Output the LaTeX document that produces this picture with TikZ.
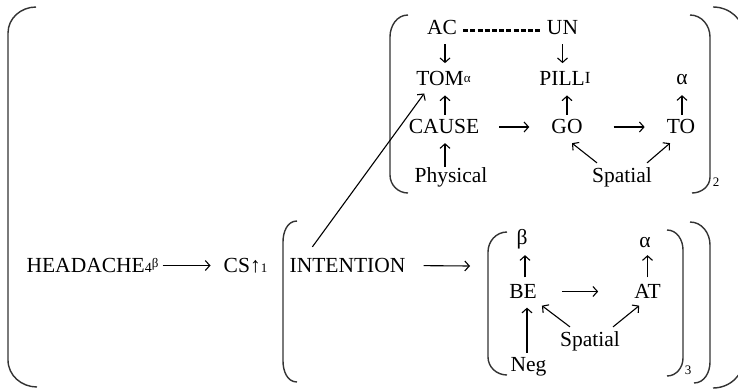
\documentclass[tikz,border=0pt]{standalone}
\usepackage{fontspec}
\setmainfont{Liberation Serif}
\usetikzlibrary{arrows.meta}
\newcommand\mysup[3]{\raisebox{#1}{\fontsize{#2}{#2}\selectfont #3}}
\newcommand\mysub[2]{{\fontsize{#1}{#1}\selectfont #2}}
\begin{document}
\begin{tikzpicture}[x=1pt,y=-1pt,
  lbl/.style={inner sep=0pt, text height=13.9pt, text depth=0pt, font=\fontsize{21.5}{25}\selectfont},
  small/.style={inner sep=0pt, font=\fontsize{13}{13}\selectfont},
  arr/.style={line width=1.1pt, -{Straight Barb[length=4.5pt,width=10pt,line width=1.1pt]}},
  dsh/.style={line width=2.2pt, dash pattern=on 5pt off 2.2pt},
  brk/.style={line width=1.4pt, draw=black!80}]
\useasboundingbox (0,0) rectangle (738,389);

% nodes
\node[lbl] (AC) at (442,28) {AC};
\node[lbl] (UN) at (562.5,28) {UN};
\node[lbl] (TOM) at (443.5,78.3) {TOM\mysup{3pt}{13}{α}};
\node[lbl] (PILL) at (565,78.3) {PILL\mysup{2pt}{17}{I}};
\node[lbl] (al1) at (682,78) {α};
\node[lbl] (CAUSE) at (444,127) {CAUSE};
\node[lbl] (GO) at (567,127) {GO};
\node[lbl] (TO) at (681,127) {TO};
\node[lbl] (PHYS) at (451,176) {Physical};
\node[lbl] (SP1) at (622,176) {Spatial};
\node[lbl] (HEAD) at (92.5,265.5) {HEADACHE\mysub{14}{4}\mysup{5pt}{13}{β}};
\node[lbl] (CS) at (245.5,265.5) {CS↑\mysub{13}{1}};
\node[lbl] (INT) at (347.5,265.5) {INTENTION};
\node[lbl] (be) at (522,238) {β};
\node[lbl] (al2) at (645,241) {α};
\node[lbl] (BE) at (523,291.5) {BE};
\node[lbl] (AT) at (647.5,291.5) {AT};
\node[lbl] (SP2) at (590,340) {Spatial};
\node[lbl] (NEG) at (528.5,365) {Neg};
\node[small] (s2) at (716,182) {2};
\node[small] (s3) at (688,370) {3};
\coordinate (b3) at (470,266);

% brackets
\draw[brk] (36,7) to[out=180,in=90] (8,33) -- (8,360) to[out=-90,in=180] (37,387);
\draw[brk] (713,7) to[out=0,in=90] (744,36) -- (744,358) to[out=-90,in=0] (713,388);
\draw[brk] (297,221) to[out=180,in=90] (283,242) -- (283,361) to[out=-90,in=180] (297,382);
\draw[brk] (690,222) to[out=0,in=90] (710,245) -- (710,362) to[out=-90,in=0] (694,383);
\draw[brk] (507,232) to[out=180,in=90] (488,252) -- (488,357) to[out=-90,in=180] (507,375);
\draw[brk] (667,230) to[out=0,in=90] (683,250) -- (683,358) to[out=-90,in=0] (667,376);
\draw[brk] (408,15) to[out=180,in=90] (390,37) -- (390,175) to[out=-90,in=180] (408,193);
\draw[brk] (690,15) to[out=0,in=90] (710,37) -- (710,177) to[out=-90,in=0] (692,193);

% dashed link
\draw[dsh, shorten <=6pt, shorten >=6pt] ([yshift=-2.5pt]AC.east) -- ([yshift=-2.5pt]UN.west);

% top block arrows
\draw[arr, shorten <=9pt, shorten >=8pt] ([xshift=3pt]AC.south) -- ([xshift=3pt]AC.south |- TOM.north);
\draw[arr, shorten <=9pt, shorten >=8pt] (UN.south) -- (UN.south |- PILL.north);
\draw[arr, shorten <=5pt, shorten >=10pt] ([xshift=1pt]CAUSE.north) -- ([xshift=1pt]CAUSE.north |- TOM.south);
\draw[arr, shorten <=5pt, shorten >=10pt] (GO.north) -- (GO.north |- PILL.south);
\draw[arr, shorten <=5pt, shorten >=10pt] ([xshift=1pt]TO.north) -- ([xshift=1pt]TO.north |- al1.south);
\draw[arr, shorten <=2pt, shorten >=9pt] ([xshift=-6pt]PHYS.north) -- ([xshift=-6pt]PHYS.north |- CAUSE.south);
\draw[arr, shorten <=20pt, shorten >=22pt] (CAUSE.east) -- (GO.west);
\draw[arr, shorten <=31pt, shorten >=22pt] (GO.east) -- (TO.west);
\draw[arr] ([shift={(5,-6)}]SP1.north west) -- ([shift={(5,9)}]GO.south);
\draw[arr] ([shift={(-5,-6)}]SP1.north east) -- ([shift={(-11,9)}]TO.south);

% bottom arrows
\draw[arr, shorten <=4pt, shorten >=13pt] (HEAD.east) -- (CS.west);
\draw[arr, shorten <=18pt] (INT.east) -- (b3);
\draw[arr, shorten <=7pt, shorten >=10pt] ([xshift=2pt]BE.north) -- ([xshift=2pt]BE.north |- be.south);
\draw[arr, shorten <=7pt, shorten >=7pt] (AT.north) -- (AT.north |- al2.south);
\draw[arr, shorten <=25pt, shorten >=36pt] (BE.east) -- (AT.west);
\draw[arr, shorten <=5pt, shorten >=9pt] ([xshift=-1.5pt]NEG.north) -- ([xshift=-1.5pt]NEG.north |- BE.south);
\draw[arr] ([shift={(10,-6)}]SP2.north west) -- ([shift={(5,7)}]BE.south east);
\draw[arr] ([shift={(-7,-6)}]SP2.north east) -- ([shift={(5,7)}]AT.south west);
\draw[arr] ([shift={(23,-11.5)}]INT.north west) -- ([shift={(8,8)}]TOM.south west);
\end{tikzpicture}
\end{document}
